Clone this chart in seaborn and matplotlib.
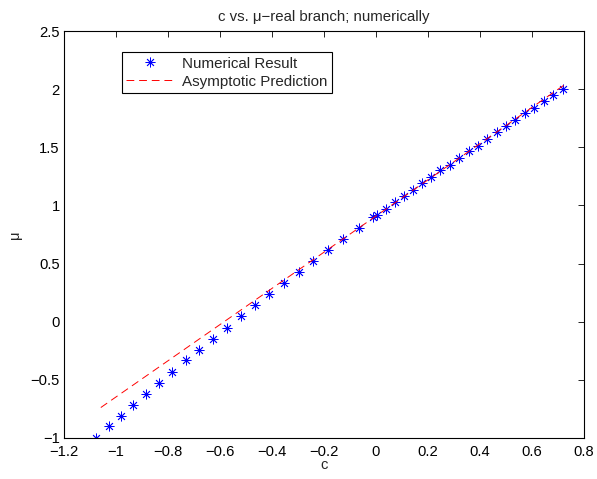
import numpy as np
import pandas as pd
import matplotlib
matplotlib.use("Agg")
import matplotlib.pyplot as plt
import seaborn as sns

# Numerical result (c, mu)
c_num = [-1.078, -1.028, -0.982, -0.933, -0.883, -0.833, -0.783, -0.732, -0.679,
         -0.627, -0.574, -0.519, -0.465, -0.410, -0.354, -0.297, -0.241, -0.185,
         -0.128, -0.065, -0.012, 0.005, 0.038, 0.074, 0.108, 0.141, 0.177, 0.212,
         0.247, 0.285, 0.320, 0.357, 0.391, 0.426, 0.464, 0.501, 0.536, 0.573,
         0.610, 0.647, 0.683, 0.720]
mu_num = [-0.999, -0.900, -0.810, -0.720, -0.624, -0.526, -0.431, -0.333, -0.242,
          -0.147, -0.052, 0.049, 0.141, 0.239, 0.334, 0.428, 0.521, 0.616,
          0.708, 0.808, 0.897, 0.914, 0.972, 1.029, 1.084, 1.129, 1.193, 1.248,
          1.304, 1.351, 1.409, 1.466, 1.515, 1.572, 1.629, 1.681, 1.739, 1.791,
          1.842, 1.897, 1.952, 2.003]

# Asymptotic prediction (straight line endpoints)
c_asym = [-1.058, 0.727]
mu_asym = [-0.738, 2.040]

xticks = [-1.2, -1, -0.8, -0.6, -0.4, -0.2, 0, 0.2, 0.4, 0.6, 0.8]
yticks = [-1, -0.5, 0, 0.5, 1, 1.5, 2, 2.5]

sns.set_style("white")
plt.rcParams['font.family'] = ['Liberation Sans', 'DejaVu Sans']
plt.rcParams['axes.unicode_minus'] = True

fig = plt.figure(figsize=(5.97, 4.79), dpi=100)
ax = fig.add_axes([0.107, 0.0856, 0.871, 0.8496])

df_num = pd.DataFrame({"c": c_num, "mu": mu_num})
df_asym = pd.DataFrame({"c": c_asym, "mu": mu_asym})

sns.lineplot(data=df_num, x="c", y="mu", ax=ax, linestyle="none",
             marker=(8, 2, 0), markersize=7, markeredgewidth=0.6,
             markeredgecolor="blue", markerfacecolor="blue",
             color="blue", label="Numerical Result", sort=False)
sns.lineplot(data=df_asym, x="c", y="mu", ax=ax, color="red",
             linewidth=0.7, label="Asymptotic Prediction", sort=False)
ax.lines[-1].set_linestyle((0, (8, 5)))

ax.set_xlim(-1.2, 0.8)
ax.set_ylim(-1, 2.5)
ax.set_xticks(xticks)
ax.set_yticks(yticks)
ax.set_xticklabels([("%g" % t).replace("-", "\u2212") for t in xticks])
ax.set_yticklabels([("%g" % t).replace("-", "\u2212") for t in yticks])
ax.tick_params(direction="in", length=4, width=0.6, top=True, right=True,
               labelsize=10.6, colors="black")
ax.tick_params(axis="x", pad=5)
ax.tick_params(axis="y", pad=3)
for s in ax.spines.values():
    s.set_visible(True)
    s.set_color("black")
    s.set_linewidth(0.8)

ax.set_xlabel("c", fontsize=10.6, labelpad=-1)
ax.set_ylabel("\u03bc", fontsize=10.6, labelpad=6)
ax.set_title("c vs. \u03bc\u2212real branch; numerically", fontsize=10.8, pad=7)

leg = ax.legend(loc="upper left", bbox_to_anchor=(0.111, 0.948),
                borderaxespad=0, fancybox=False, framealpha=1,
                edgecolor="black", fontsize=10.9, handlelength=3.2,
                handletextpad=0.5, borderpad=0.3, labelspacing=0.25)
leg.get_frame().set_linewidth(0.8)

fig.savefig("out.png", dpi=100)
